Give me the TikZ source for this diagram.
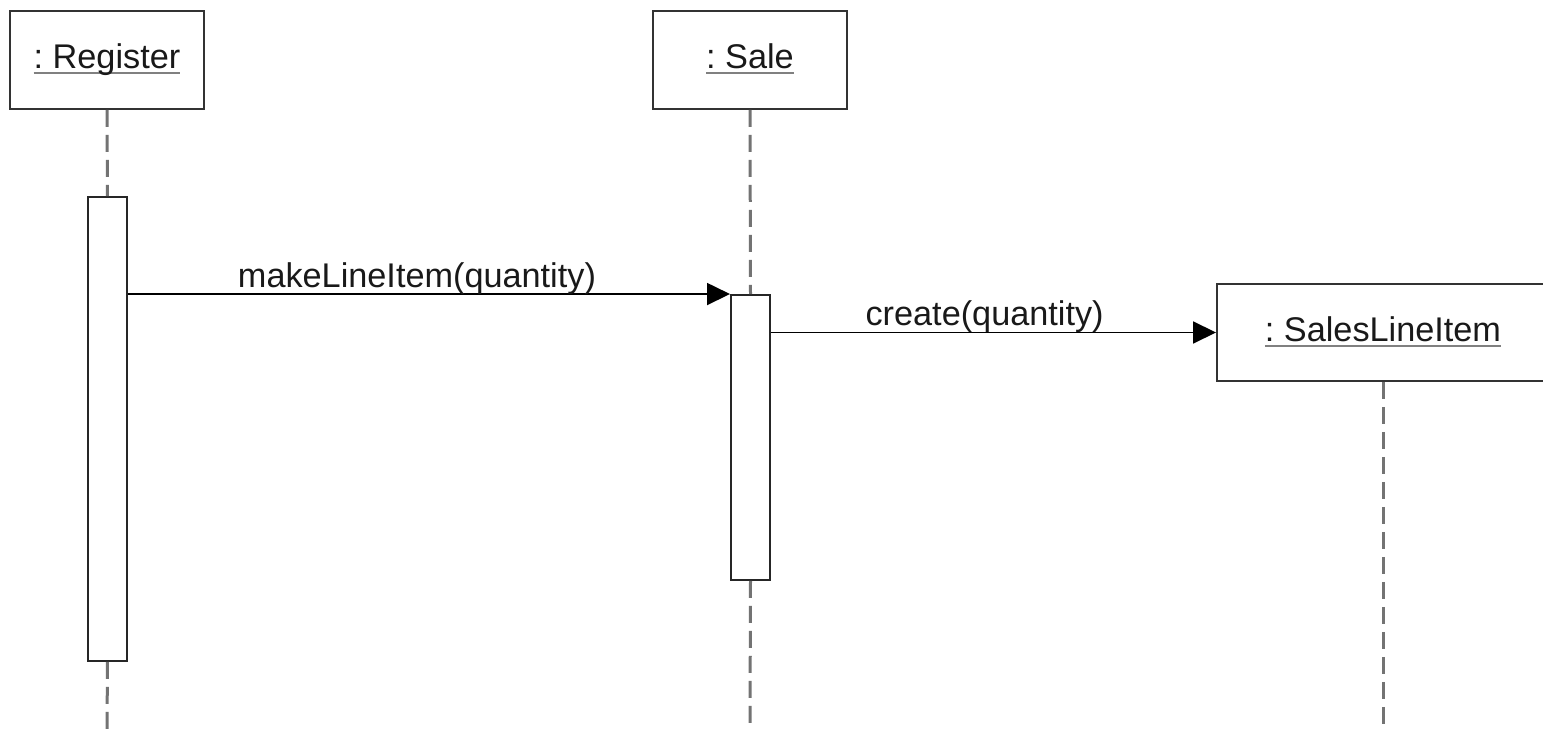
\documentclass[tikz,border=0pt]{standalone}
\usepackage{fontspec}
\setmainfont{Liberation Sans}
\usetikzlibrary{arrows.meta}
\frenchspacing

% gray underline under an object name
\newcommand{\objname}[1]{\setbox0=\hbox{#1}\rlap{\color{gray}\rule[-3pt]{\wd0}{1.1pt}}\box0}

\begin{document}
\begin{tikzpicture}[x=0.02cm, y=-0.02cm,
    obj/.style={draw=black!80, line width=0.04cm, fill=white, text height=14pt, text depth=4pt,
                font=\fontsize{19.5}{23}\selectfont, text=black!90},
    act/.style={draw=black!85, line width=0.04cm, fill=white, minimum width=0.78cm, inner sep=0pt},
    lifeline/.style={draw=black!55, line width=0.06cm, dash pattern=on 0.34cm off 0.16cm},
    msg/.style={draw=black, line width=0.035cm, -{Triangle[length=0.46cm, width=0.44cm]}},
    msglabel/.style={anchor=base, yshift=0.14cm, font=\fontsize{19.5}{23}\selectfont, text=black!90}]
        \useasboundingbox (0,0) rectangle (1543,729);
        \clip (0,0) rectangle (1543,729);

        % Objetos
        \node[obj, minimum width=3.88cm, minimum height=1.96cm] (reg) at (107,60) {\objname{: Register}};
        \node[obj, minimum width=3.9cm, minimum height=1.96cm] (sale) at (750,60) {\objname{: Sale}};
        \node[obj, minimum width=6.64cm, minimum height=1.94cm] (sli) at (1383,332.5) {\objname{: SalesLineItem}};

        % Activaciones
        \node[act, minimum height=9.28cm] (regact) at (107.5,429) {};
        \node[act, minimum height=5.7cm] (saleact) at (750.5,437.5) {};

        % Extremos de las lineas de vida
        \coordinate (regend) at (107,729);
        \coordinate (saleend) at (750,729);
        \coordinate (sliend) at (1383,729);

        % Lineas de vida
        \draw[lifeline] (reg.south) -- (regact.north);
        \draw[lifeline] (regact.south) -- (regend);
        \draw[lifeline] (sale.south) -- (saleact.north);
        \draw[lifeline] (saleact.south) -- (saleend);
        \draw[lifeline] (sli.south) -- (sliend);

        % Mensajes
        \draw[msg] (regact.east |- saleact.north west) -- (saleact.north west)
            node[msglabel, pos=0.48] {makeLineItem(quantity)};
        \draw[msg] (saleact.east |- sli.west) -- (sli.west)
            node[msglabel, pos=0.48] {create(quantity)};
    \end{tikzpicture}
\end{document}
